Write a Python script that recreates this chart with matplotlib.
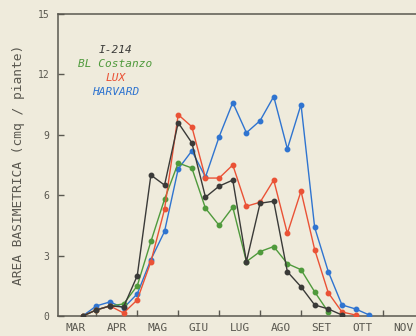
import matplotlib
matplotlib.use("Agg")
import matplotlib.pyplot as plt
import numpy as np

# Basal area per plant, sampled every ten days (index 0 = third decade of March)
months = ["MAR", "APR", "MAG", "GIU", "LUG", "AGO", "SET", "OTT", "NOV"]
y_ticks = [0, 3, 6, 9, 12, 15]

i214 = [0, 0.3, 0.5, 0.45, 2.0, 7.0, 6.5, 9.6, 8.6, 5.9, 6.45, 6.75,
        2.7, 5.6, 5.7, 2.2, 1.45, 0.55, 0.35, 0.05]
bl_costanzo = [0, 0.3, 0.5, 0.6, 1.5, 3.7, 5.8, 7.6, 7.35, 5.35, 4.5, 5.4,
               2.7, 3.2, 3.45, 2.6, 2.3, 1.2, 0.2]
lux = [0, 0.3, 0.5, 0.15, 0.8, 2.7, 5.3, 10.0, 9.4, 6.85, 6.85, 7.5,
       5.45, 5.65, 6.75, 4.1, 6.2, 3.3, 1.15, 0.2, 0.05]
harvard = [0, 0.5, 0.7, 0.4, 1.1, 2.8, 4.2, 7.3, 8.2, 6.9, 8.9, 10.6,
           9.1, 9.7, 10.9, 8.3, 10.5, 4.4, 2.2, 0.55, 0.35, 0.05]

series = [
    ("HARVARD", harvard, "#2f74d0"),
    ("BL Costanzo", bl_costanzo, "#4f9a3c"),
    ("LUX", lux, "#ea5236"),
    ("I-214", i214, "#3a3a38"),
]

bg = "#efebdc"
axis_col = "#5a5850"
mono = "DejaVu Sans Mono"

fig = plt.figure(figsize=(4.16, 3.36), dpi=100, facecolor=bg)
ax = fig.add_axes([0.139, 0.0595, 0.87, 0.899])
ax.set_facecolor(bg)

def decade_x(n):
    # month units from 1 March, one sample every third of a month
    return 2 / 3 + np.arange(n) / 3

for name, vals, col in series:
    x = decade_x(len(vals))
    ax.plot(x, vals, color=col, lw=1.0, marker="o", ms=3.2,
            mfc=col, mec=col, zorder=3)

ax.set_xlim(0.06, 8.9)
ax.set_ylim(0, 15)

ax.spines["right"].set_visible(False)
for s in ("left", "bottom", "top"):
    ax.spines[s].set_color(axis_col)
    ax.spines[s].set_linewidth(1.1)

# month boundaries as ticks, month names centred between them
ax.set_xticks(np.arange(1, 9))
ax.set_xticklabels([])
ax.set_xticks(np.arange(len(months)) + 0.5, minor=True)
ax.set_xticklabels(months, minor=True, fontfamily=mono, fontsize=8,
                   color=axis_col)
ax.tick_params(axis="x", which="major", direction="in", length=4,
               color=axis_col, width=1)
ax.tick_params(axis="x", which="minor", length=0, pad=5)

ax.set_yticks(y_ticks)
ax.set_yticklabels([str(v) for v in y_ticks], fontfamily=mono, fontsize=7,
                   color=axis_col)
ax.tick_params(axis="y", direction="in", length=4, color=axis_col, width=1,
               pad=6)
ax.tick_params(top=False)

ax.set_ylabel("AREA BASIMETRICA (cmq / piante)", fontfamily=mono,
              fontsize=9.3, color=axis_col, labelpad=9)

# label block naming the clones in their line colours
labels = [("I-214", "#3a3a38"), ("BL Costanzo", "#4f9a3c"),
          ("LUX", "#ea5236"), ("HARVARD", "#2f74d0")]
for k, (txt, col) in enumerate(labels):
    ax.text(1.47, 13.2 - k * 0.7, txt, ha="center", va="center",
            fontfamily=mono, fontstyle="oblique", fontsize=8, color=col)

fig.savefig("out.png", dpi=100, facecolor=bg)
